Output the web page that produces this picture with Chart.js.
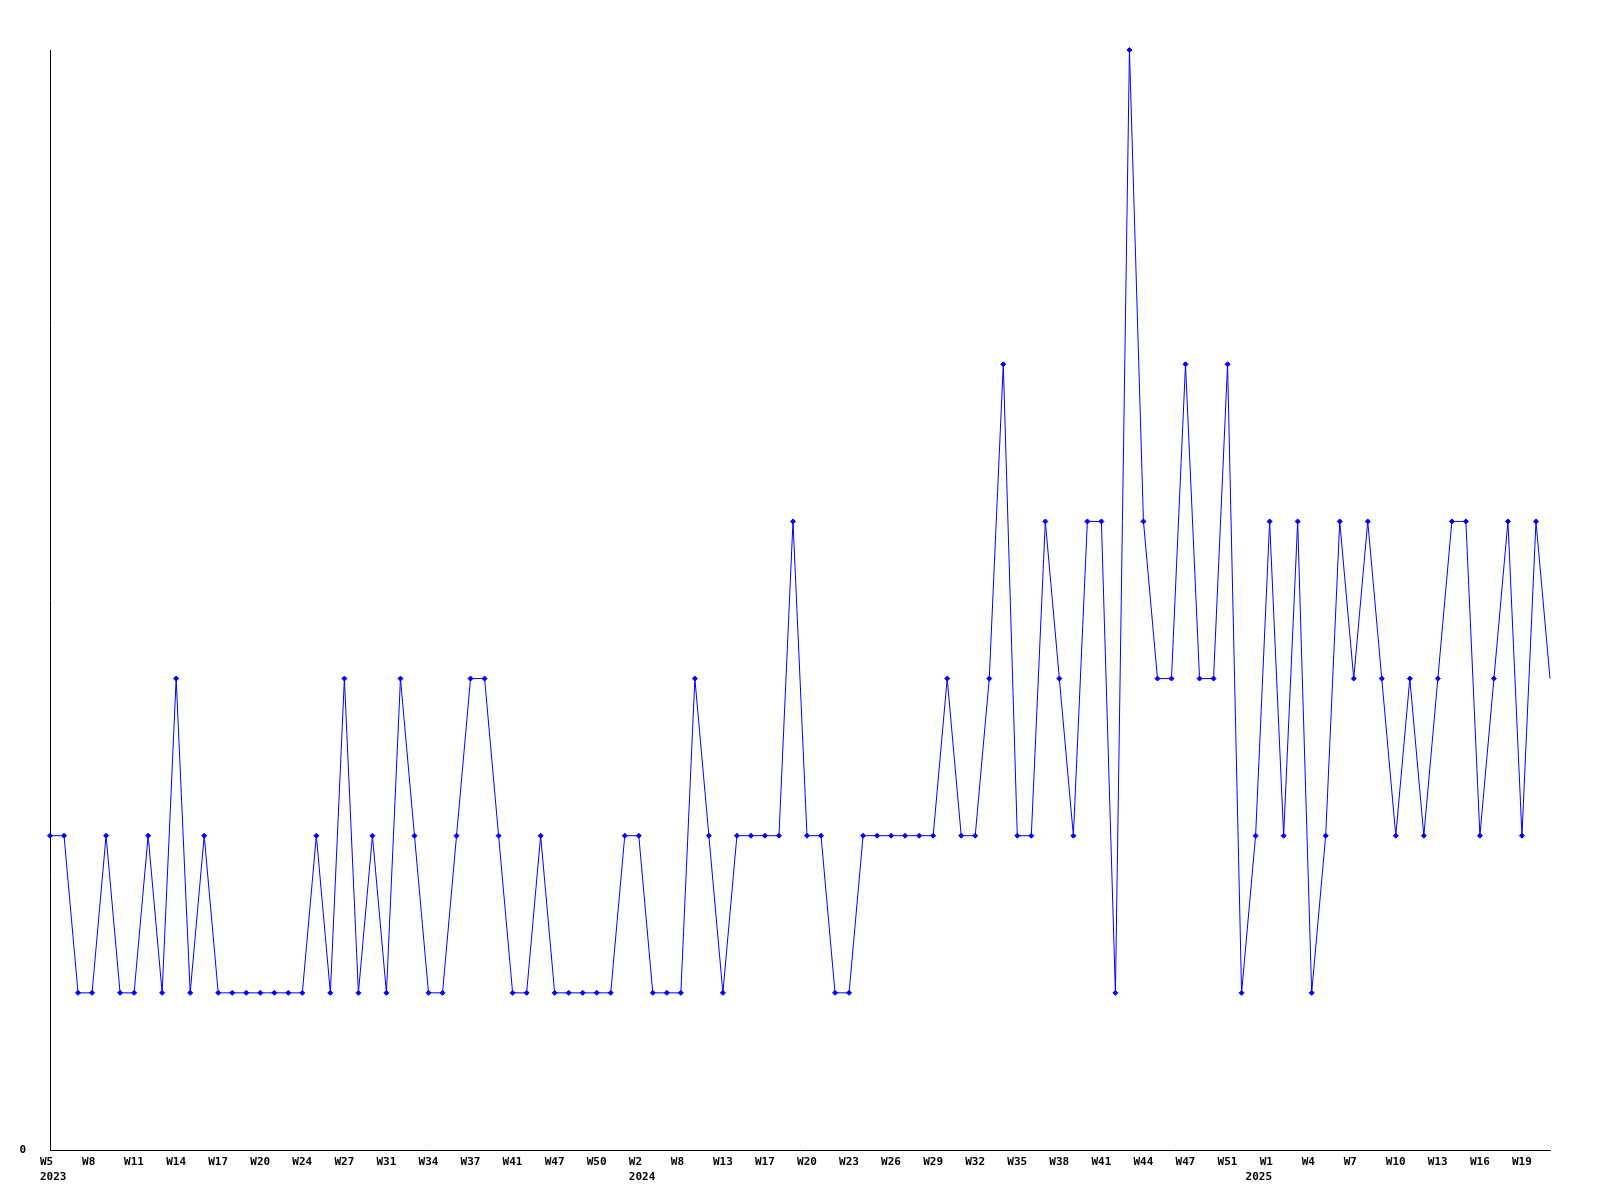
<!DOCTYPE html>
<html>
<head>
<meta charset="utf-8">
<script src="https://cdn.jsdelivr.net/npm/chart.js@4/dist/chart.umd.min.js"></script>
<style>
  html, body { margin: 0; padding: 0; background: #fff; }
  canvas { display: block; }
</style>
</head>
<body>
<canvas id="chart" width="1600" height="1200"></canvas>
<script>
// weekly categories, one per data point (weeks without data are skipped)
const weeks = [
  "W5", "W6", "W7", "W8", "W9", "W10", "W11", "W12", "W13", "W14",
  "W15", "W16", "W17", "W18", "W19", "W20", "W21", "W23", "W24", "W25",
  "W26", "W27", "W28", "W30", "W31", "W32", "W33", "W34", "W35", "W36",
  "W37", "W38", "W40", "W41", "W43", "W45", "W47", "W48", "W49", "W50",
  "W51", "W1", "W2", "W3", "W5", "W8", "W10", "W11", "W13", "W14",
  "W15", "W17", "W18", "W19", "W20", "W21", "W22", "W23", "W24", "W25",
  "W26", "W27", "W28", "W29", "W30", "W31", "W32", "W33", "W34", "W35",
  "W36", "W37", "W38", "W39", "W40", "W41", "W42", "W43", "W44", "W45",
  "W46", "W47", "W48", "W50", "W51", "W52", "W52", "W1", "W2", "W3",
  "W4", "W5", "W6", "W7", "W8", "W9", "W10", "W11", "W12", "W13",
  "W14", "W15", "W16", "W17", "W18", "W19", "W20", "W21"
];

const counts = [
  2, 2, 1, 1, 2, 1, 1, 2, 1, 3,
  1, 2, 1, 1, 1, 1, 1, 1, 1, 2,
  1, 3, 1, 2, 1, 3, 2, 1, 1, 2,
  3, 3, 2, 1, 1, 2, 1, 1, 1, 1,
  1, 2, 2, 1, 1, 1, 3, 2, 1, 2,
  2, 2, 2, 4, 2, 2, 1, 1, 2, 2,
  2, 2, 2, 2, 3, 2, 2, 3, 5, 2,
  2, 4, 3, 2, 4, 4, 1, 7, 4, 3,
  3, 5, 3, 3, 5, 1, 2, 4, 2, 4,
  1, 2, 4, 3, 4, 3, 2, 3, 2, 3,
  4, 4, 2, 3, 4, 2, 4, 3
];

// year written under the point where each year starts
const yearIndex = [0, 42, 86];
const yearNames = ["2023", "2024", "2025"];

const labelEvery = 3;
const tickFont = { family: "DejaVu Sans Mono", size: 11, weight: "bold", lineHeight: "15px" };

new Chart(document.getElementById("chart"), {
  type: "line",
  data: {
    labels: weeks,
    datasets: [
      {
        data: counts,
        borderColor: "#0000ff",
        backgroundColor: "#0000ff",
        borderWidth: 1,
        tension: 0,
        fill: false,
        pointStyle: "rectRot",
        pointRadius: (ctx) => (ctx.dataIndex === counts.length - 1 ? 0 : 2.5),
        pointBorderWidth: 1,
        pointBorderColor: "#0000ff",
        pointBackgroundColor: "#0000ff",
        clip: false
      }
    ]
  },
  options: {
    responsive: false,
    devicePixelRatio: 1,
    animation: false,
    layout: { padding: { top: 50, right: 50, left: 0, bottom: 0 } },
    plugins: {
      legend: { display: false },
      tooltip: { enabled: false }
    },
    scales: {
      x: {
        offset: false,
        grid: { display: false, drawTicks: false },
        border: { display: true, color: "#000", width: 1 },
        afterFit(scale) {
          scale.height = 50;
        },
        ticks: {
          autoSkip: false,
          maxRotation: 0,
          minRotation: 0,
          align: "start",
          labelOffset: -10,
          padding: 5,
          color: "#000",
          font: tickFont,
          callback(value, index) {
            const week = index % labelEvery === 0 ? weeks[index] : "";
            const y = yearIndex.indexOf(index);
            return y >= 0 ? [week, yearNames[y]] : week;
          }
        }
      },
      y: {
        min: 0,
        max: 7,
        grid: { display: false, drawTicks: false },
        border: { display: true, color: "#000", width: 1 },
        afterBuildTicks(scale) {
          scale.ticks = [{ value: 0 }];
        },
        afterFit(scale) {
          scale.width = 50;
        },
        ticks: {
          padding: 24,
          color: "#000",
          font: tickFont
        }
      }
    }
  }
});
</script>
</body>
</html>
